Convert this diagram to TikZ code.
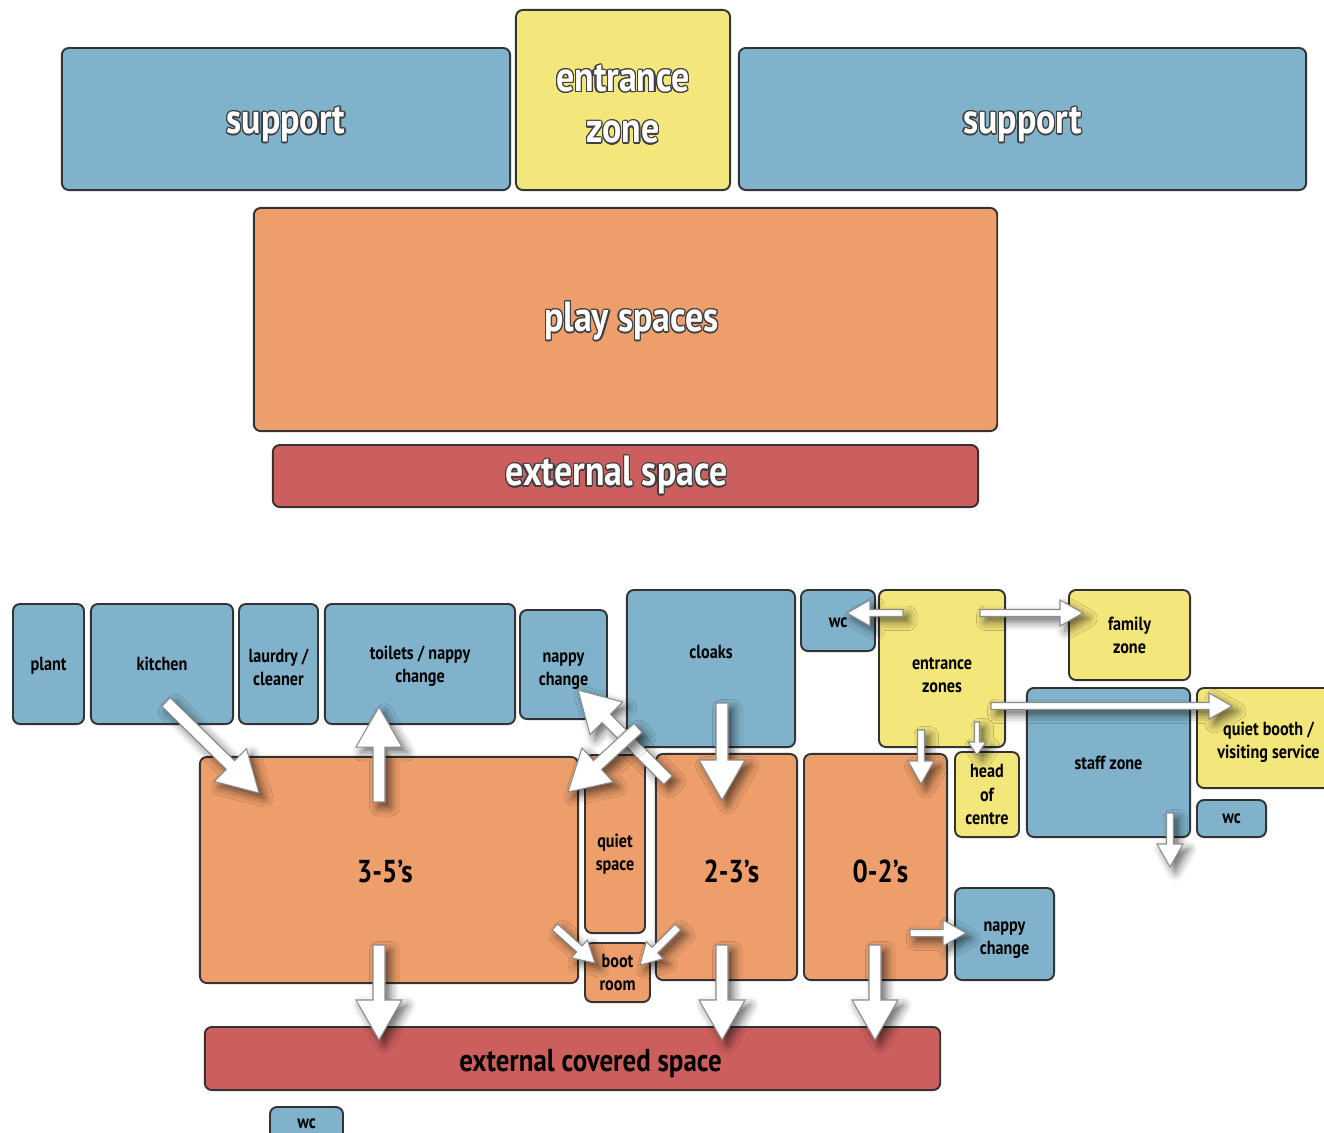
\documentclass[tikz,border=0pt]{standalone}
\usepackage{fontspec}
\setmainfont{PT Sans}[FakeStretch=0.85]
\usepackage{contour}
\usetikzlibrary{calc,shadows.blur}

\definecolor{roomblue}{RGB}{128,179,203}
\definecolor{roomyellow}{RGB}{243,230,122}
\definecolor{roomorange}{RGB}{237,158,107}
\definecolor{roomred}{RGB}{204,95,94}

\contourlength{0.35pt}
\contournumber{16}
\newcommand{\toplab}[1]{\contour{black!75}{\textcolor{white}{#1}}}
% move a label down inside its room, keeping the room where it is
\newcommand{\down}[2]{\raisebox{-#1}[\height][\depth]{\begin{tabular}{@{}c@{}}#2\end{tabular}}}

% fat white arrow: tail, tip, shaft half-width, head half-width, head length
\newcommand{\fatarrow}[5]{%
  \coordinate (fa base) at ($(#2)!#5!(#1)$);
  \draw[white arrow] ($(#1)!#3!90:(#2)$) -- ($(fa base)!#3!90:(#2)$)
    -- ($(fa base)!#4!90:(#2)$) -- (#2) -- ($(fa base)!#4!-90:(#2)$)
    -- ($(fa base)!#3!-90:(#2)$) -- ($(#1)!#3!-90:(#2)$) -- cycle;}
\newcommand{\bigarrow}[2]{\fatarrow{#1}{#2}{0.06cm}{0.23cm}{0.40cm}}
\newcommand{\midarrow}[2]{\fatarrow{#1}{#2}{0.04cm}{0.12cm}{0.21cm}}
\newcommand{\smallarrow}[2]{\fatarrow{#1}{#2}{0.035cm}{0.13cm}{0.23cm}}

\begin{document}
\begin{tikzpicture}
        [x=0.01cm, y=-0.01cm,
        room/.style={draw=black!80, line width=0.55pt, rounded corners=2pt, inner sep=0pt, align=center,
          font=\fontsize{5.4}{6.6}\selectfont\bfseries},
        blue room/.style={room, fill=roomblue},
        yellow room/.style={room, fill=roomyellow},
        orange room/.style={room, fill=roomorange},
        red room/.style={room, fill=roomred},
        big/.style={font=\fontsize{12}{14.6}\selectfont\bfseries},
        mid/.style={font=\fontsize{9}{11}\selectfont\bfseries},
        white arrow/.style={draw=black!45, line width=0.3pt, fill=white, line join=miter,
          blur shadow={shadow xshift=1.5pt, shadow yshift=-1.5pt, shadow blur radius=2.5pt, shadow opacity=60}}]

        \path[use as bounding box] (0,0) rectangle (1324,1132);
        \clip (0,0) rectangle (1324,1132);

        % upper diagram
        \node[blue room, big, minimum width=4.48cm, minimum height=1.42cm] (supportA) at (286,119) {\down{0.045cm}{\toplab{support}}};
        \node[yellow room, big, minimum width=2.14cm, minimum height=1.80cm] (entrance) at (623,100) {\down{0.07cm}{\toplab{entrance}\\\toplab{zone}}};
        \node[blue room, big, minimum width=5.67cm, minimum height=1.42cm] (supportB) at (1022.5,119) {\down{0.045cm}{\toplab{support}}};
        \node[orange room, big, minimum width=7.43cm, minimum height=2.23cm] (play) at (625.5,319.5) {\down{0.02cm}{\hspace*{0.12cm}\toplab{play spaces}}};
        \node[red room, big, minimum width=7.05cm, minimum height=0.62cm] (external) at (625.5,476) {\toplab{external space}\hspace*{0.18cm}};

        % lower diagram
        \node[blue room, minimum width=0.71cm, minimum height=1.20cm] (plant) at (48.5,664) {\down{0.02cm}{plant}};
        \node[blue room, minimum width=1.42cm, minimum height=1.20cm] (kitchen) at (162,664) {kitchen};
        \node[blue room, minimum width=0.79cm, minimum height=1.20cm] (laundry) at (278.5,664) {\down{0.05cm}{laurdry /\\cleaner}};
        \node[blue room, minimum width=1.90cm, minimum height=1.20cm] (toilets) at (420,664) {\down{0.02cm}{toilets / nappy\\change}};
        \node[blue room, minimum width=0.87cm, minimum height=1.09cm] (nappyA) at (563.5,664.5) {\down{0.05cm}{nappy\\change}};
        \node[blue room, minimum width=1.68cm, minimum height=1.57cm] (cloaks) at (711,668.5) {\down{-0.15cm}{cloaks}};
        \node[blue room, minimum width=0.74cm, minimum height=0.61cm] (wcA) at (838,620.5) {\down{0.02cm}{wc}};
        \node[yellow room, minimum width=1.26cm, minimum height=1.57cm] (entrances) at (942,668.5) {\down{0.08cm}{entrance\\zones}};
        \node[yellow room, minimum width=1.21cm, minimum height=0.90cm] (family) at (1129.5,635) {family\\zone};
        \node[blue room, minimum width=1.63cm, minimum height=1.49cm] (staff) at (1108.5,762.5) {staff zone};
        \node[yellow room, minimum width=1.43cm, minimum height=1.00cm] (booth) at (1268.5,738) {\down{0.04cm}{quiet booth /\\visiting service}};
        \node[blue room, minimum width=0.69cm, minimum height=0.37cm] (wcB) at (1231.5,818.5) {wc};
        \node[yellow room, minimum width=0.64cm, minimum height=0.85cm] (head) at (987,794.5) {head\\of\\centre};
        \node[orange room, mid, minimum width=3.78cm, minimum height=2.26cm] (older) at (389,870) {\down{0.05cm}{3-5’s\hspace*{0.08cm}}};
        \node[orange room, minimum width=0.60cm, minimum height=1.78cm] (quiet) at (615,844) {\down{0.10cm}{quiet\\space}};
        \node[orange room, minimum width=0.65cm, minimum height=0.59cm] (boot) at (617.5,972.5) {boot\\room};
        \node[orange room, mid, minimum width=1.41cm, minimum height=2.26cm] (middle) at (726.5,867) {\down{0.08cm}{\hspace*{0.1cm}2-3’s}};
        \node[orange room, mid, minimum width=1.43cm, minimum height=2.26cm] (baby) at (875.5,867) {\down{0.08cm}{\hspace*{0.1cm}0-2’s}};
        \node[blue room, minimum width=0.99cm, minimum height=0.92cm] (nappyB) at (1004.5,934) {\down{0.04cm}{nappy\\change}};
        \node[red room, mid, minimum width=7.35cm, minimum height=0.63cm] (covered) at (572.5,1058.5) {\down{0.05cm}{\hspace*{0.36cm}external covered space}};
        \node[blue room, minimum width=0.73cm, minimum height=0.33cm] (wcC) at (306.5,1123.5) {wc};

        % arrow ends
        \coordinate (kitchen out) at (166,702);
        \coordinate (older in) at (259,793);
        \coordinate (older up) at (379,802);
        \coordinate (toilets in) at (379,707);
        \coordinate (older down) at (379,945);
        \coordinate (covered a) at (379,1040);
        \coordinate (middle down) at (722,945);
        \coordinate (covered b) at (722,1040);
        \coordinate (baby down) at (875,945);
        \coordinate (covered c) at (875,1040);
        \coordinate (cloaks out) at (722,703);
        \coordinate (middle in) at (722,800);
        \coordinate (middle up) at (668,780);
        \coordinate (nappyA in) at (578,690);
        \coordinate (cloaks side) at (638,728);
        \coordinate (older side) at (568,792);
        \coordinate (older corner) at (555,927);
        \coordinate (boot left) at (595,963);
        \coordinate (middle corner) at (678,927);
        \coordinate (boot right) at (640,965);
        \coordinate (baby side) at (910,933);
        \coordinate (nappyB in) at (966,933);
        \coordinate (ent a) at (903,613);
        \coordinate (wcA in) at (847,613);
        \coordinate (ent b) at (980,613);
        \coordinate (family in) at (1083,613);
        \coordinate (ent c) at (991,706);
        \coordinate (booth in) at (1232,706);
        \coordinate (ent d) at (921,730);
        \coordinate (baby in) at (921,784);
        \coordinate (ent e) at (977,722);
        \coordinate (head in) at (977,755);
        \coordinate (staff out) at (1170,813);
        \coordinate (staff exit) at (1170,867);

        \bigarrow{kitchen out}{older in}
        \bigarrow{older up}{toilets in}
        \bigarrow{older down}{covered a}
        \bigarrow{middle down}{covered b}
        \bigarrow{baby down}{covered c}
        \bigarrow{cloaks out}{middle in}
        \bigarrow{middle up}{nappyA in}
        \bigarrow{cloaks side}{older side}
        \midarrow{older corner}{boot left}
        \midarrow{middle corner}{boot right}
        \smallarrow{baby side}{nappyB in}
        \smallarrow{ent a}{wcA in}
        \smallarrow{ent b}{family in}
        \smallarrow{ent c}{booth in}
        \smallarrow{ent d}{baby in}
        \fatarrow{ent e}{head in}{0.025cm}{0.09cm}{0.13cm}
        \smallarrow{staff out}{staff exit}

    \end{tikzpicture}
\end{document}
